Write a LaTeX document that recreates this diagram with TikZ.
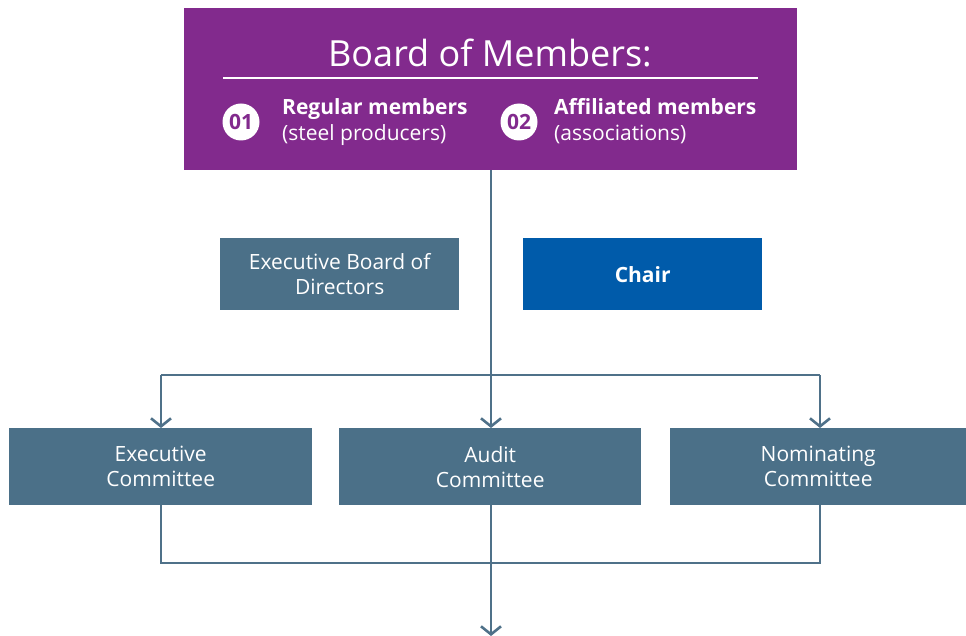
\documentclass[tikz,border=0pt]{standalone}
\usepackage{fontspec}
\setmainfont{Open Sans}
\usetikzlibrary{arrows.meta}
\definecolor{boardpurple}{HTML}{822A8D}
\definecolor{slateblue}{HTML}{4B7088}
\definecolor{chairblue}{HTML}{005BAA}
\definecolor{linecol}{HTML}{4F7189}
\begin{document}
\begin{tikzpicture}[x=1pt,y=-1pt,
  box/.style={fill=slateblue,text=white,font=\fontsize{21}{25}\selectfont,align=center,inner sep=0pt,anchor=north west},
  boxtext/.style={text=white,font=\fontsize{21}{25}\selectfont,align=center},
  conn/.style={draw=linecol,line width=2.6pt},
  arr/.style={conn,-{Straight Barb[length=8pt,width=20pt,line width=2.6pt]}},
  num/.style={circle,fill=white,text=boardpurple,font=\bfseries\fontsize{21}{24}\selectfont,minimum size=37pt,inner sep=0pt},
  member/.style={text=white,font=\fontsize{21}{26}\selectfont,align=left,anchor=north west,inner sep=0pt}
]
\useasboundingbox (0,0) rectangle (966,636);
% top board
\node[fill=boardpurple,minimum width=613pt,minimum height=162pt,inner sep=0pt,anchor=north west] (board) at (184,8) {};
\node[text=white,font=\fontsize{36}{44}\selectfont,anchor=base] (title) at (490,67) {Board of Members:};
\coordinate (ruleL) at (223,78);
\coordinate (ruleR) at (758,78);
\draw[white,line width=2pt] (ruleL) -- (ruleR);
\node[num] (n1) at (241,122) {01};
\node[num] (n2) at (519,122) {02};
\node[member] (reg) at (282,98) {\textbf{Regular members}\\(steel producers)};
\node[member] (aff) at (554,98) {\textbf{Affiliated members}\\(associations)};
% middle
\node[box,minimum width=239pt,minimum height=72pt] (ebd) at (220,238) {};
\node[boxtext] at (ebd.center) {Executive Board of\\Directors};
\node[box,fill=chairblue,minimum width=239pt,minimum height=72pt] (chair) at (523,238) {};
\node[boxtext,font=\bfseries\fontsize{21}{25}\selectfont] at (chair.center) {Chair};
% committees
\node[box,minimum width=303pt,minimum height=77pt] (exec) at (9,428) {};
\node[boxtext] at (exec.center) {Executive\\Committee};
\node[box,minimum width=302pt,minimum height=77pt] (audit) at (339,428) {};
\node[boxtext] at (audit.center) {Audit\\Committee};
\node[box,minimum width=296pt,minimum height=77pt] (nom) at (670,428) {};
\node[boxtext] at (nom.center) {Nominating\\Committee};
% connectors
\coordinate (split) at (491,375);
\coordinate (splitL) at (161,375);
\coordinate (splitR) at (820,375);
\draw[arr] (board.south -| split) -- (audit.north -| split);
\draw[conn] (splitL) -- (splitR);
\draw[arr] (splitL) -- (exec.north -| splitL);
\draw[arr] (splitR) -- (nom.north -| splitR);
\coordinate (joinL) at (161,563);
\coordinate (joinR) at (820,563);
\coordinate (outEnd) at (491,636);
\draw[conn] (exec.south -| joinL) -- (joinL) -- (joinR) -- (nom.south -| joinR);
\draw[arr] (audit.south -| outEnd) -- (outEnd);
\end{tikzpicture}
\end{document}
